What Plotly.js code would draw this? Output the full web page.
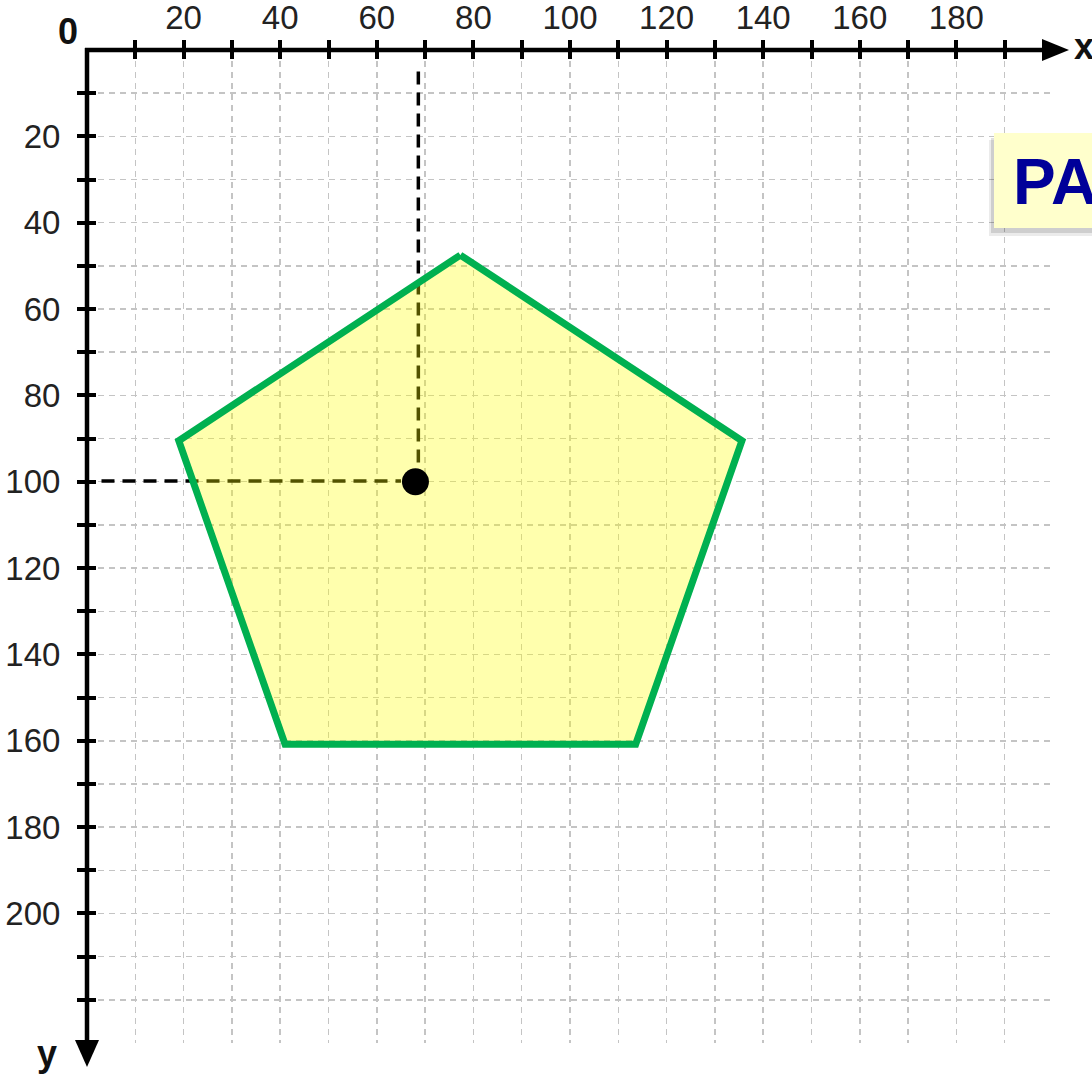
<!DOCTYPE html>
<html><head><meta charset="utf-8">
<script src="https://cdn.plot.ly/plotly-3.0.1.min.js"></script>
<style>html,body{margin:0;padding:0;background:#fff;overflow:hidden}#chart{width:1092px;height:1075px}</style>
</head><body><div id="chart"></div>
<script>
// ---- data ----
const xGridVals = [10,20,30,40,50,60,70,80,90,100,110,120,130,140,150,160,170,180,190,200];
const yGridVals = [10,20,30,40,50,60,70,80,90,100,110,120,130,140,150,160,170,180,190,200,210,220,230];
const xTickVals = [10,20,30,40,50,60,70,80,90,100,110,120,130,140,150,160,170,180,190];
const xTickText = ['','20','','40','','60','','80','','100','','120','','140','','160','','180',''];
const yTickVals = [10,20,30,40,50,60,70,80,90,100,110,120,130,140,150,160,170,180,190,200,210,220];
const yTickText = ['','20','','40','','60','','80','','100','','120','','140','','160','','180','','200','',''];
const pentagonX = [77.3, 135.6, 113.6, 41, 19, 77.3];
const pentagonY = [47.5, 90.5, 160.8, 160.8, 90.5, 47.5];
const pointX = [68];
const pointY = [100];
const guideVX = [68.6, 68.6];
const guideVY = [5, 96];
const guideHX = [3, 65];
const guideHY = [99.8, 99.8];
const X_MAX = 200, Y_MAX = 230;

// ---- geometry helpers (pixel -> paper) ----
const W = 1092, H = 1075;
const M = {l: 87, r: 39, t: 50, b: 32};
const PW = W - M.l - M.r, PH = H - M.t - M.b;
const fx = p => (p - M.l) / PW;
const fy = p => 1 - (p - M.t) / PH;

const tickFont = {family: 'Liberation Sans, Arial, sans-serif', size: 33, color: '#222'};

const traces = [
  {x: guideVX, y: guideVY, mode: 'lines', line: {color: '#000', width: 3.5, dash: '13px,8px'}, hoverinfo: 'skip', showlegend: false},
  {x: guideHX, y: guideHY, mode: 'lines', line: {color: '#000', width: 3.5, dash: '13px,8px'}, hoverinfo: 'skip', showlegend: false},
  {x: pentagonX, y: pentagonY, mode: 'lines', fill: 'toself', fillcolor: 'rgba(255,255,0,0.32)',
   line: {color: '#00B050', width: 7}, hoverinfo: 'skip', showlegend: false},
  {x: pointX, y: pointY, mode: 'markers', marker: {color: '#000', size: 27}, hoverinfo: 'skip', showlegend: false},
  {x: [0], y: [0], xaxis: 'x2', yaxis: 'y2', mode: 'markers', marker: {opacity: 0}, hoverinfo: 'skip', showlegend: false},
  {x: [0], y: [0], xaxis: 'x3', yaxis: 'y3', mode: 'markers', marker: {opacity: 0}, hoverinfo: 'skip', showlegend: false}
];

const gridAx = {showgrid: true, gridcolor: '#c4c4c4', gridwidth: 1.5, griddash: '6px,5px',
  zeroline: false, showline: false, ticks: '', showticklabels: false, tickmode: 'array', fixedrange: true};

const layout = {
  width: W, height: H,
  margin: M,
  paper_bgcolor: '#fff', plot_bgcolor: '#fff',
  hovermode: false,
  xaxis: Object.assign({}, gridAx, {range: [0, X_MAX], tickvals: xGridVals, side: 'top'}),
  yaxis: Object.assign({}, gridAx, {range: [Y_MAX, 0], tickvals: yGridVals}),
  xaxis2: {overlaying: 'x', anchor: 'y2', side: 'top', range: [0, X_MAX], tickmode: 'array',
    tickvals: xTickVals, ticktext: xTickText, ticks: 'outside', ticklen: 9, tickwidth: 4, tickcolor: '#000',
    showgrid: false, zeroline: false, showline: false, tickfont: tickFont, ticklabelstandoff: -2, fixedrange: true},
  yaxis2: {overlaying: 'y', anchor: 'x2', side: 'left', range: [Y_MAX, 0], tickmode: 'array',
    tickvals: yTickVals, ticktext: yTickText, ticks: 'outside', ticklen: 9, tickwidth: 4, tickcolor: '#000',
    showgrid: false, zeroline: false, showline: false, tickfont: tickFont, ticklabelstandoff: 10, fixedrange: true},
  xaxis3: {overlaying: 'x', anchor: 'y3', side: 'top', range: [0, X_MAX], tickmode: 'array',
    tickvals: xTickVals, ticks: 'inside', ticklen: 9, tickwidth: 4, tickcolor: '#000',
    showticklabels: false, showgrid: false, zeroline: false, showline: false, fixedrange: true},
  yaxis3: {overlaying: 'y', anchor: 'x3', side: 'left', range: [Y_MAX, 0], tickmode: 'array',
    tickvals: yTickVals, ticks: 'inside', ticklen: 9, tickwidth: 4, tickcolor: '#000',
    showticklabels: false, showgrid: false, zeroline: false, showline: false, fixedrange: true},
  shapes: [
    // axis lines
    {type: 'line', xref: 'paper', yref: 'paper', x0: fx(85), x1: fx(1046), y0: 1, y1: 1, line: {color: '#000', width: 4.5}, layer: 'above'},
    {type: 'line', xref: 'paper', yref: 'paper', x0: 0, x1: 0, y0: fy(48), y1: fy(1043), line: {color: '#000', width: 4.5}, layer: 'above'},
    // arrowheads
    {type: 'path', xref: 'paper', yref: 'paper', layer: 'above', line: {width: 0}, fillcolor: '#000',
     path: `M ${fx(1042)} ${fy(39)} L ${fx(1069)} ${fy(50)} L ${fx(1042)} ${fy(61)} Z`},
    {type: 'path', xref: 'paper', yref: 'paper', layer: 'above', line: {width: 0}, fillcolor: '#000',
     path: `M ${fx(75)} ${fy(1040)} L ${fx(87)} ${fy(1067)} L ${fx(99)} ${fy(1040)} Z`},
    // PA box shadow + box
    {type: 'rect', xref: 'paper', yref: 'paper', layer: 'above', line: {width: 0}, fillcolor: 'rgba(0,0,0,0.08)',
     x0: fx(989), x1: fx(1110), y0: fy(236), y1: fy(140)},
    {type: 'rect', xref: 'paper', yref: 'paper', layer: 'above', line: {width: 0}, fillcolor: 'rgba(0,0,0,0.12)',
     x0: fx(991), x1: fx(1110), y0: fy(233), y1: fy(138)},
    {type: 'rect', xref: 'paper', yref: 'paper', layer: 'above', line: {width: 0}, fillcolor: '#FFFFCC',
     x0: fx(994), x1: fx(1110), y0: fy(228), y1: fy(133)}
  ],
  annotations: [
    {xref: 'paper', yref: 'paper', x: fx(68), y: fy(32), text: '0', showarrow: false,
     font: {family: 'Liberation Sans, Arial, sans-serif', size: 36, color: '#111', weight: 'bold'}, xanchor: 'center', yanchor: 'middle'},
    {xref: 'paper', yref: 'paper', x: fx(1072), y: fy(47), text: 'x', showarrow: false,
     font: {family: 'Liberation Sans, Arial, sans-serif', size: 36, color: '#111', weight: 'bold'}, xanchor: 'left', yanchor: 'middle'},
    {xref: 'paper', yref: 'paper', x: fx(47), y: fy(1053), text: 'y', showarrow: false,
     font: {family: 'Liberation Sans, Arial, sans-serif', size: 36, color: '#111', weight: 'bold'}, xanchor: 'center', yanchor: 'middle'},
    {xref: 'paper', yref: 'paper', x: fx(1011), y: fy(182), text: 'PA', showarrow: false,
     font: {family: 'Liberation Sans, Arial, sans-serif', size: 64, color: '#000099', weight: 'bold'}, xanchor: 'left', yanchor: 'middle'}
  ]
};

Plotly.newPlot('chart', traces, layout, {displayModeBar: false, staticPlot: true});
</script>
</body></html>
